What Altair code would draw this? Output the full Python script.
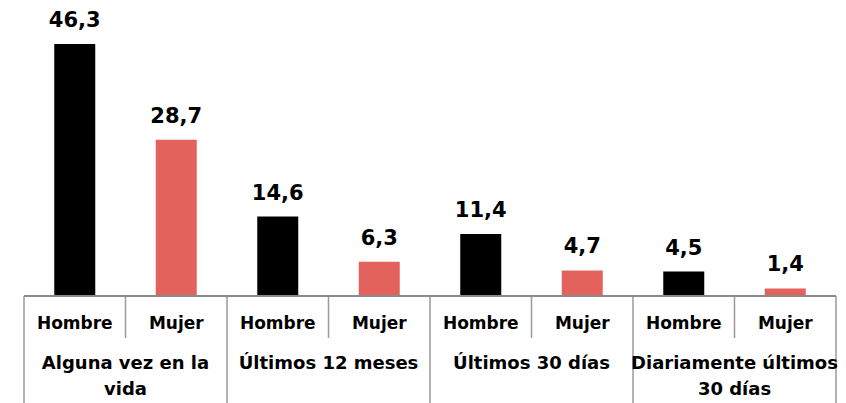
import altair as alt
import pandas as pd

groups = ["Alguna vez en la vida", "Últimos 12 meses", "Últimos 30 días", "Diariamente últimos 30 días"]
group_lines = [["Alguna vez en la", "vida"], ["Últimos 12 meses"], ["Últimos 30 días"], ["Diariamente últimos", "30 días"]]
sexes = ["Hombre", "Mujer"]
values = [46.3, 28.7, 14.6, 6.3, 11.4, 4.7, 4.5, 1.4]
colors = ["#000000", "#E3625C"]

rows = []
for i, v in enumerate(values):
    rows.append({
        "pos": i + 0.5,
        "value": v,
        "sex": sexes[i % 2],
        "label": f"{v:.1f}".replace(".", ","),
    })
bars_df = pd.DataFrame(rows)
groups_df = pd.DataFrame({"pos": [2 * g + 1 for g in range(len(groups))], "name": group_lines})
major_df = pd.DataFrame({"pos": [0, 2, 4, 6, 8]})
minor_df = pd.DataFrame({"pos": [1, 3, 5, 7]})
edge_df = pd.DataFrame({"pos": [0], "pos2": [8]})

FONT = "DejaVu Sans"
xs = alt.Scale(domain=[0, 8], range=[11, 833], nice=False, zero=False)
ys = alt.Scale(domain=[0, 46.3], range=[288, 36], nice=False)

bars = alt.Chart(bars_df).mark_bar(size=41).encode(
    x=alt.X("pos:Q", scale=xs, axis=None),
    y=alt.Y("value:Q", scale=ys, axis=None),
    color=alt.Color("sex:N", scale=alt.Scale(domain=sexes, range=colors), legend=None),
)
vals = alt.Chart(bars_df).mark_text(
    font=FONT, fontWeight="bold", fontSize=21, dy=-23, baseline="middle", color="#000000"
).encode(
    x=alt.X("pos:Q", scale=xs, axis=None),
    y=alt.Y("value:Q", scale=ys, axis=None),
    text="label:N",
)
sex_lbl = alt.Chart(bars_df).mark_text(
    font=FONT, fontWeight="bold", fontSize=17, baseline="middle", color="#000000"
).encode(
    x=alt.X("pos:Q", scale=xs, axis=None),
    y=alt.value(316),
    text="sex:N",
)
grp_lbl = alt.Chart(groups_df).mark_text(
    font=FONT, fontWeight="bold", fontSize=18, baseline="top", lineHeight=26, color="#000000"
).encode(
    x=alt.X("pos:Q", scale=xs, axis=None),
    y=alt.value(347),
    text="name",
)
major = alt.Chart(major_df).mark_rule(color="#9a9a9a", strokeWidth=1.5).encode(
    x=alt.X("pos:Q", scale=xs, axis=None),
    y=alt.value(288),
    y2=alt.value(400),
)
minor = alt.Chart(minor_df).mark_rule(color="#9a9a9a", strokeWidth=1.5).encode(
    x=alt.X("pos:Q", scale=xs, axis=None),
    y=alt.value(288),
    y2=alt.value(330),
)
top = alt.Chart(edge_df).mark_rule(color="#8a8a8a", strokeWidth=2).encode(
    x=alt.X("pos:Q", scale=xs, axis=None),
    x2="pos2:Q",
    y=alt.value(288),
)

chart = alt.layer(bars, vals, major, minor, top, sex_lbl, grp_lbl).properties(
    width=830, height=395, autosize=alt.AutoSizeParams(type="none"), padding=0
).configure_view(stroke=None)

chart.save("out.html", embed_options={"renderer": "svg", "actions": False})
